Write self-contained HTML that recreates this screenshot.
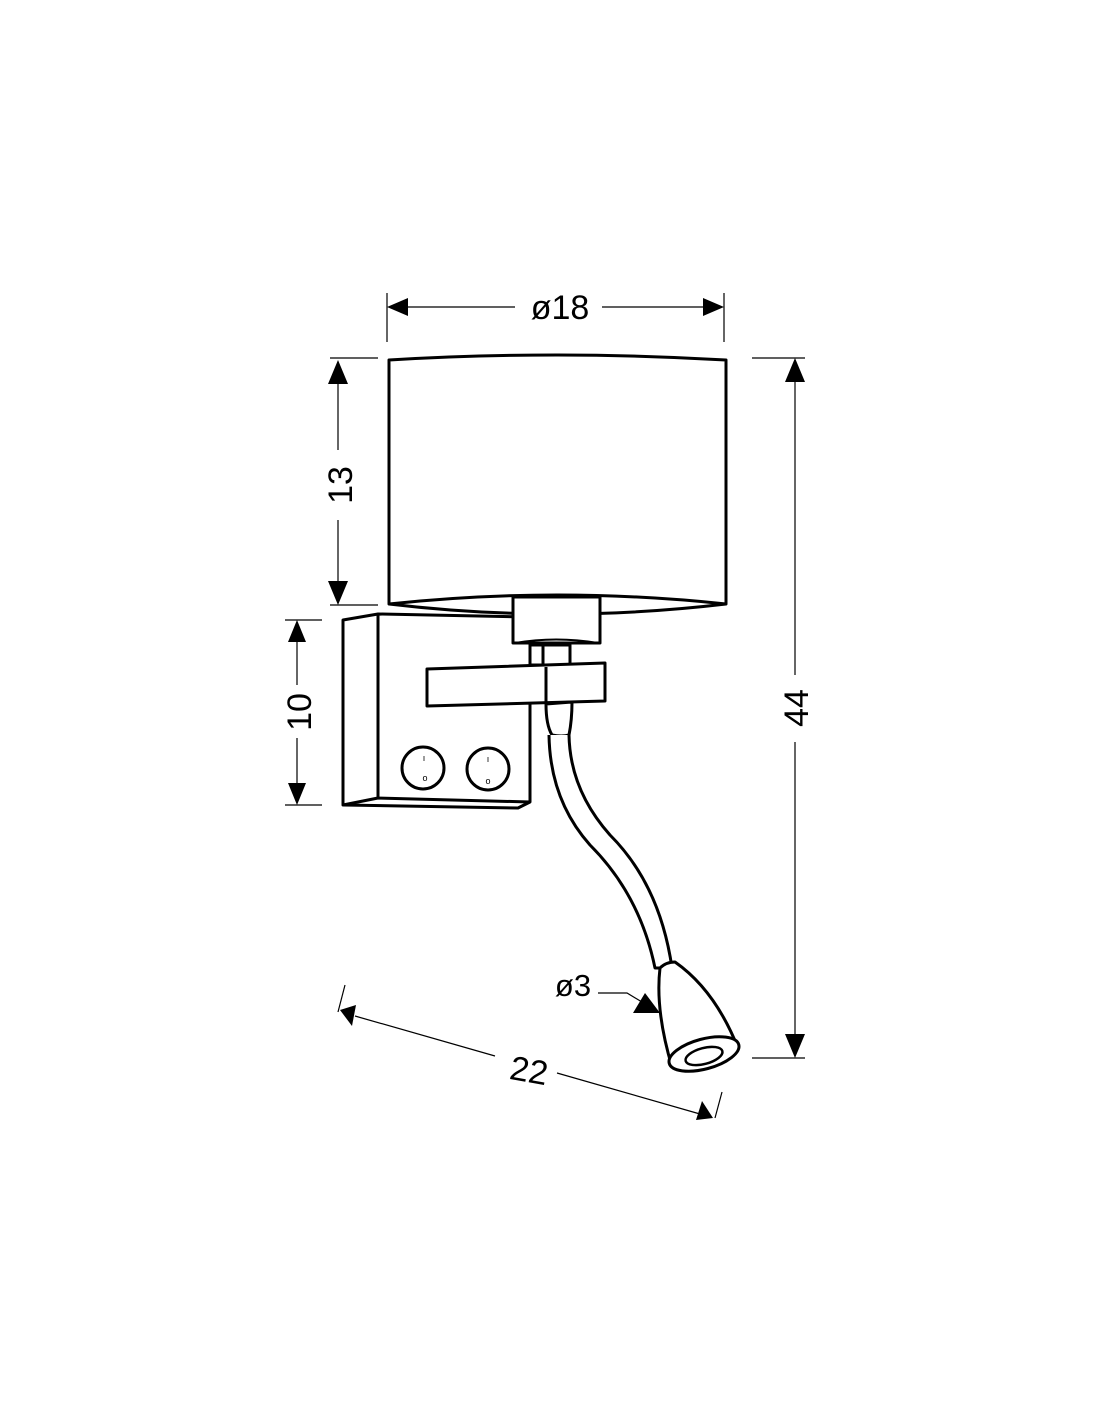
<!DOCTYPE html>
<html><head><style>html,body{margin:0;padding:0;background:#fff}svg{display:block}</style></head>
<body>
<svg width="1100" height="1422" viewBox="0 0 1100 1422" xmlns="http://www.w3.org/2000/svg" font-family="Liberation Sans, sans-serif">
<g stroke="#000" fill="none" stroke-width="1.2">
 <line x1="387" y1="293" x2="387" y2="342"/><line x1="724" y1="293" x2="724" y2="342"/>
 <line x1="400" y1="307" x2="515" y2="307"/><line x1="602" y1="307" x2="710" y2="307"/>
 <line x1="330" y1="358" x2="378" y2="358"/><line x1="330" y1="605" x2="378" y2="605"/>
 <line x1="338" y1="375" x2="338" y2="450"/><line x1="338" y1="520" x2="338" y2="590"/>
 <line x1="752" y1="358" x2="805" y2="358"/><line x1="752" y1="1058" x2="805" y2="1058"/>
 <line x1="795" y1="375" x2="795" y2="675"/><line x1="795" y1="742" x2="795" y2="1042"/>
 <line x1="285" y1="620" x2="322" y2="620"/><line x1="285" y1="805" x2="322" y2="805"/>
 <line x1="297" y1="635" x2="297" y2="685"/><line x1="297" y1="738" x2="297" y2="790"/>
 <line x1="345" y1="985" x2="338" y2="1012"/><line x1="722" y1="1092" x2="715" y2="1118"/>
 <line x1="355" y1="1016" x2="495" y2="1056"/><line x1="557" y1="1073" x2="700" y2="1114"/>
 <polyline points="598,993 627,993 642,1002"/>
</g>
<g fill="#000">
 <polygon points="387,307 408,298 408,316"/><polygon points="724,307 703,298 703,316"/>
 <polygon points="338,360 328,384 348,384"/><polygon points="338,605 328,581 348,581"/>
 <polygon points="795,358 785,382 805,382"/><polygon points="795,1058 785,1034 805,1034"/>
 <polygon points="297,620 288,642 306,642"/><polygon points="297,805 288,783 306,783"/>
 <polygon points="340,1010 356,1005 352,1026"/><polygon points="713,1118 696,1120 702,1101"/>
 <polygon points="660,1013 633,1013 645,993"/>
</g>
<g font-size="34" fill="#000" text-anchor="middle">
 <text x="560" y="319">ø18</text>
 <text transform="translate(352,485) rotate(-90)">13</text>
 <text transform="translate(808,708) rotate(-90)">44</text>
 <text transform="translate(311,712) rotate(-90)">10</text>
 <text transform="translate(527,1082) rotate(10)">22</text>
 <text x="573" y="996" font-size="31">ø3</text>
</g>
<g stroke="#000" stroke-width="3" fill="#fff" stroke-linejoin="round">
 <path d="M389,360 Q557,350 726,360 L726,604 Q557,624 389,604 Z"/>
 <path d="M389,604 Q557,586 726,604" fill="none"/>
 <path d="M378,614 L512,618 M378,620 L512,623" fill="none" stroke-width="2.5"/>
 <path d="M343,620 L378,614 L530,617 L530,802 L518,808 L343,805 Z"/>
 <path d="M378,614 L378,798 L530,802 M343,805 L378,798" fill="none"/>
 <rect x="513" y="597" width="87" height="46"/>
 <path d="M515,643 Q556,636 598,643" fill="none" stroke-width="2"/>
 <rect x="530" y="645" width="13" height="20"/><rect x="543" y="645" width="27" height="20"/>
 <path d="M427,669 L605,663 L605,701 L427,706 Z"/>
 <line x1="546" y1="667" x2="546" y2="703"/>
 <path d="M546,704 Q546,725 552,735 Q562,737 569,735 Q572,720 572,702 Z"/>
 <path d="M549,735 Q550,800 590,845 Q640,895 655,968 L672,968 Q660,885 610,835 Q570,790 569,735" />
 <path d="M660,968 Q655,1010 672,1067 L738,1048 Q715,990 675,962 Q666,962 660,968 Z"/>
 <ellipse cx="704" cy="1054" rx="36" ry="15" transform="rotate(-15 704 1054)"/>
 <ellipse cx="704" cy="1056" rx="19" ry="8" transform="rotate(-15 704 1056)" stroke-width="2.5"/>
 <circle cx="423" cy="768" r="21"/><circle cx="488" cy="769" r="21"/>
</g>
<g font-size="9" fill="#000" text-anchor="middle">
 <text x="424" y="761">ı</text><text x="425" y="781">o</text>
 <text x="488" y="762">ı</text><text x="488" y="784">o</text>
</g>
</svg>
</body></html>
